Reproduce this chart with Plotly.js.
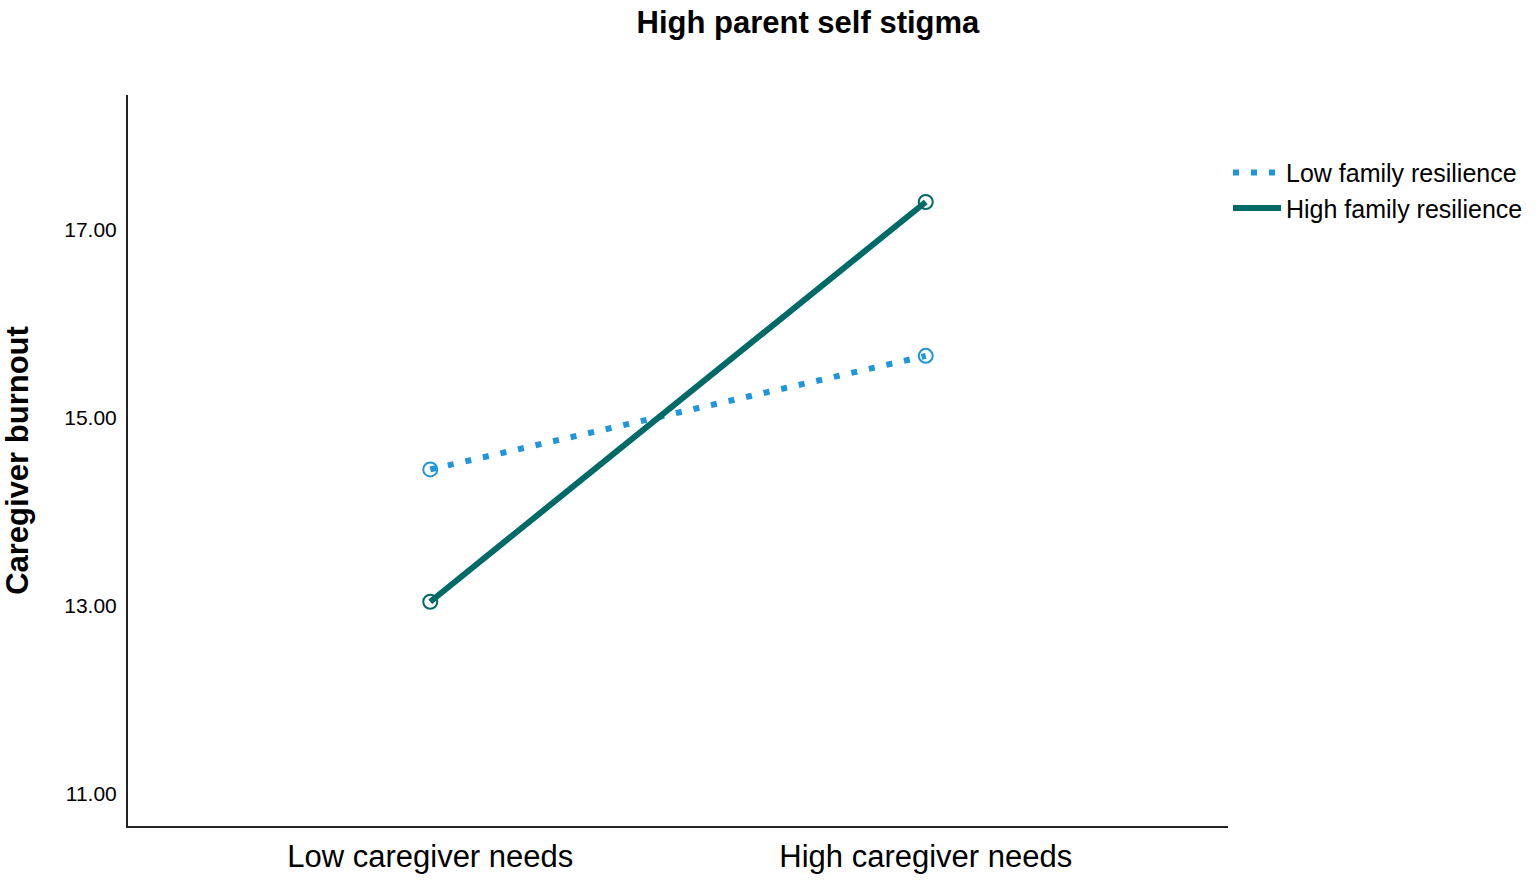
<!DOCTYPE html>
<html>
<head>
<meta charset="utf-8">
<script src="https://cdn.plot.ly/plotly-3.0.1.min.js"></script>
<style>
  html, body { margin: 0; padding: 0; background: #fff; }
  #plot { width: 1536px; height: 885px; }
</style>
</head>
<body>
<div id="plot"></div>
<script>
// categories on the x axis
const needs = ['Low caregiver needs', 'High caregiver needs'];

// estimated marginal means of caregiver burnout
const lowResilience = [14.45, 15.66];
const highResilience = [13.04, 17.30];

const yTicks = [11, 13, 15, 17];
const yTickText = ['11.00', '13.00', '15.00', '17.00'];

const FONT = 'Liberation Sans, Arial, sans-serif';
const BLUE = '#1f96dc';
const TEAL = '#006a68';

// lines carry the legend, markers are drawn on top without legend entries
const lineTrace = (y, name, color, dash) => ({
  x: [0, 1],
  y: y,
  type: 'scatter',
  mode: 'lines',
  name: name,
  line: { color: color, width: 6, dash: dash },
});

const markerTrace = (y, color) => ({
  x: [0, 1],
  y: y,
  type: 'scatter',
  mode: 'markers',
  showlegend: false,
  marker: { symbol: 'circle-open', size: 14, color: color, line: { width: 2, color: color } },
});

const data = [
  lineTrace(lowResilience, 'Low family resilience', BLUE, '6px,12px'),
  lineTrace(highResilience, 'High family resilience', TEAL, 'solid'),
  markerTrace(lowResilience, BLUE),
  markerTrace(highResilience, TEAL),
];

const layout = {
  width: 1536,
  height: 885,
  paper_bgcolor: '#fff',
  plot_bgcolor: '#fff',
  font: { family: FONT, color: '#000' },
  margin: { l: 128, r: 308, t: 95, b: 59, autoexpand: false },
  title: {
    text: '<b>High parent self stigma</b>',
    font: { family: FONT, size: 31, color: '#000' },
    x: 0.526, xanchor: 'center',
    y: 0.975, yanchor: 'middle',
  },
  xaxis: {
    range: [-0.61, 1.61],
    tickvals: [0, 1],
    ticktext: needs,
    showgrid: false,
    zeroline: false,
    showline: true,
    linecolor: '#222',
    linewidth: 2,
    ticks: '',
    ticklabelstandoff: 2,
    tickfont: { family: FONT, size: 31, color: '#000' },
    fixedrange: true,
  },
  yaxis: {
    range: [10.65, 18.44],
    tickvals: yTicks,
    ticktext: yTickText,
    showgrid: false,
    zeroline: false,
    showline: true,
    linecolor: '#222',
    linewidth: 2,
    ticks: '',
    ticklabelstandoff: 5,
    tickfont: { family: FONT, size: 21, color: '#000' },
    title: {
      text: '<b>Caregiver burnout</b>',
      font: { family: FONT, size: 31, color: '#000' },
      standoff: 30,
    },
    fixedrange: true,
  },
  showlegend: true,
  legend: {
    x: 1.0, xanchor: 'left',
    y: 0.925, yanchor: 'top',
    font: { family: FONT, size: 25, color: '#000' },
    itemwidth: 48,
    tracegroupgap: 0,
    bgcolor: 'rgba(0,0,0,0)',
  },
};

Plotly.newPlot('plot', data, layout, { displayModeBar: false, staticPlot: true });
</script>
</body>
</html>
